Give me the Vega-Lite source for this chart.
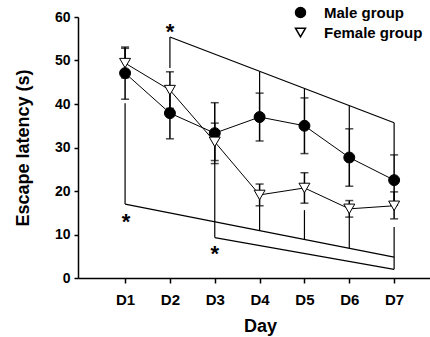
{
  "$schema": "https://vega.github.io/schema/vega-lite/v6.json",
  "width": 352,
  "height": 261,
  "autosize": "none",
  "padding": {"left": 78, "top": 17, "right": 0, "bottom": 59},
  "config": {
    "view": {"stroke": null},
    "font": "Liberation Sans",
    "axis": {
      "labelFont": "Liberation Sans", "labelFontWeight": "bold", "labelColor": "black",
      "titleFont": "Liberation Sans", "titleFontWeight": "bold", "titleColor": "black",
      "domainColor": "black", "tickColor": "black", "domainWidth": 1.5, "tickWidth": 1.5, "grid": false
    }
  },
  "datasets": {
    "stats": [
      {"day": 1, "group": "Male group", "mean": 47.1, "lo": 41.1, "hi": 53.1},
      {"day": 2, "group": "Male group", "mean": 37.9, "lo": 32.0, "hi": 43.8},
      {"day": 3, "group": "Male group", "mean": 33.3, "lo": 26.3, "hi": 40.3},
      {"day": 4, "group": "Male group", "mean": 37.0, "lo": 31.5, "hi": 42.5},
      {"day": 5, "group": "Male group", "mean": 35.0, "lo": 28.6, "hi": 41.4},
      {"day": 6, "group": "Male group", "mean": 27.7, "lo": 21.1, "hi": 34.3},
      {"day": 7, "group": "Male group", "mean": 22.5, "lo": 16.7, "hi": 28.3},
      {"day": 1, "group": "Female group", "mean": 49.4, "lo": 46.0, "hi": 52.8},
      {"day": 2, "group": "Female group", "mean": 43.2, "lo": 39.0, "hi": 47.4},
      {"day": 3, "group": "Female group", "mean": 31.3, "lo": 27.0, "hi": 35.6},
      {"day": 4, "group": "Female group", "mean": 19.1, "lo": 16.6, "hi": 21.6},
      {"day": 5, "group": "Female group", "mean": 20.7, "lo": 17.2, "hi": 24.2},
      {"day": 6, "group": "Female group", "mean": 15.9, "lo": 14.0, "hi": 17.8},
      {"day": 7, "group": "Female group", "mean": 16.6, "lo": 13.6, "hi": 19.8}
    ],
    "brackets": [
      {"x": 2, "y": 55.4, "x2": 2, "y2": 48.3},
      {"x": 2, "y": 55.4, "x2": 7, "y2": 35.7},
      {"x": 4, "y": 47.5, "x2": 4, "y2": 42.5},
      {"x": 5, "y": 43.6, "x2": 5, "y2": 41.4},
      {"x": 6, "y": 39.6, "x2": 6, "y2": 34.3},
      {"x": 7, "y": 35.7, "x2": 7, "y2": 28.3},
      {"x": 1, "y": 40.2, "x2": 1, "y2": 17.0},
      {"x": 1, "y": 17.0, "x2": 7, "y2": 4.8},
      {"x": 4, "y": 10.9, "x2": 4, "y2": 16.6},
      {"x": 5, "y": 8.9, "x2": 5, "y2": 15.6},
      {"x": 6, "y": 6.8, "x2": 6, "y2": 14.0},
      {"x": 3, "y": 26.4, "x2": 3, "y2": 9.3},
      {"x": 3, "y": 9.3, "x2": 7, "y2": 2.0},
      {"x": 7, "y": 2.0, "x2": 7, "y2": 11.7}
    ],
    "stars": [
      {"x": 2, "y": 57.9, "t": "*"},
      {"x": 1.02, "y": 14.3, "t": "*"},
      {"x": 3.0, "y": 7.0, "t": "*"}
    ]
  },
  "encoding": {
    "x": {
      "type": "quantitative",
      "scale": {"domain": [-0.05, 7.8], "nice": false, "zero": false},
      "axis": {
        "title": "Day", "titleFontSize": 18, "titlePadding": 10, "titleX": 182,
        "values": [1, 2, 3, 4, 5, 6, 7], "labelExpr": "'D' + datum.value",
        "labelFontSize": 15, "tickSize": 5, "labelPadding": 9
      }
    },
    "y": {
      "type": "quantitative",
      "scale": {"domain": [0, 60], "nice": false},
      "axis": {
        "title": "Escape latency (s)", "titleFontSize": 18, "titlePadding": 22,
        "values": [0, 10, 20, 30, 40, 50, 60],
        "labelFontSize": 14, "tickSize": 4, "labelPadding": 4
      }
    }
  },
  "layer": [
    {
      "data": {"name": "brackets"},
      "mark": {"type": "rule", "color": "black", "strokeWidth": 1.2},
      "encoding": {
        "x": {"field": "x"}, "y": {"field": "y"},
        "x2": {"field": "x2"}, "y2": {"field": "y2"}
      }
    },
    {
      "data": {"name": "stats"},
      "mark": {"type": "errorbar", "color": "black", "thickness": 1.5, "ticks": {"size": 8, "color": "black", "thickness": 1.5}},
      "encoding": {
        "x": {"field": "day"},
        "y": {"field": "lo"},
        "y2": {"field": "hi"},
        "detail": {"field": "group"}
      }
    },
    {
      "data": {"name": "stats"},
      "mark": {"type": "line", "color": "black", "strokeWidth": 1},
      "encoding": {
        "x": {"field": "day"},
        "y": {"field": "mean"},
        "detail": {"field": "group"}
      }
    },
    {
      "data": {"name": "stats"},
      "mark": {"type": "point", "filled": false, "stroke": "black", "strokeWidth": 1, "opacity": 1, "size": 120},
      "encoding": {
        "x": {"field": "day"},
        "y": {"field": "mean"},
        "shape": {
          "field": "group", "type": "nominal",
          "scale": {"domain": ["Male group", "Female group"], "range": ["circle", "triangle-down"]},
          "legend": {
            "orient": "none", "legendX": 215, "legendY": -12, "padding": 0,
            "title": null, "labelOffset": 16, "rowPadding": 4,
            "labelFont": "Liberation Sans", "labelFontWeight": "bold", "labelFontSize": 15, "labelColor": "black"
          }
        },
        "fill": {
          "field": "group", "type": "nominal",
          "scale": {"domain": ["Male group", "Female group"], "range": ["black", "white"]}
        }
      }
    },
    {
      "data": {"name": "stars"},
      "mark": {"type": "text", "font": "Liberation Sans", "fontWeight": "bold", "fontSize": 22, "color": "black", "baseline": "middle", "dy": 6},
      "encoding": {
        "x": {"field": "x"},
        "y": {"field": "y"},
        "text": {"field": "t"}
      }
    }
  ]
}
